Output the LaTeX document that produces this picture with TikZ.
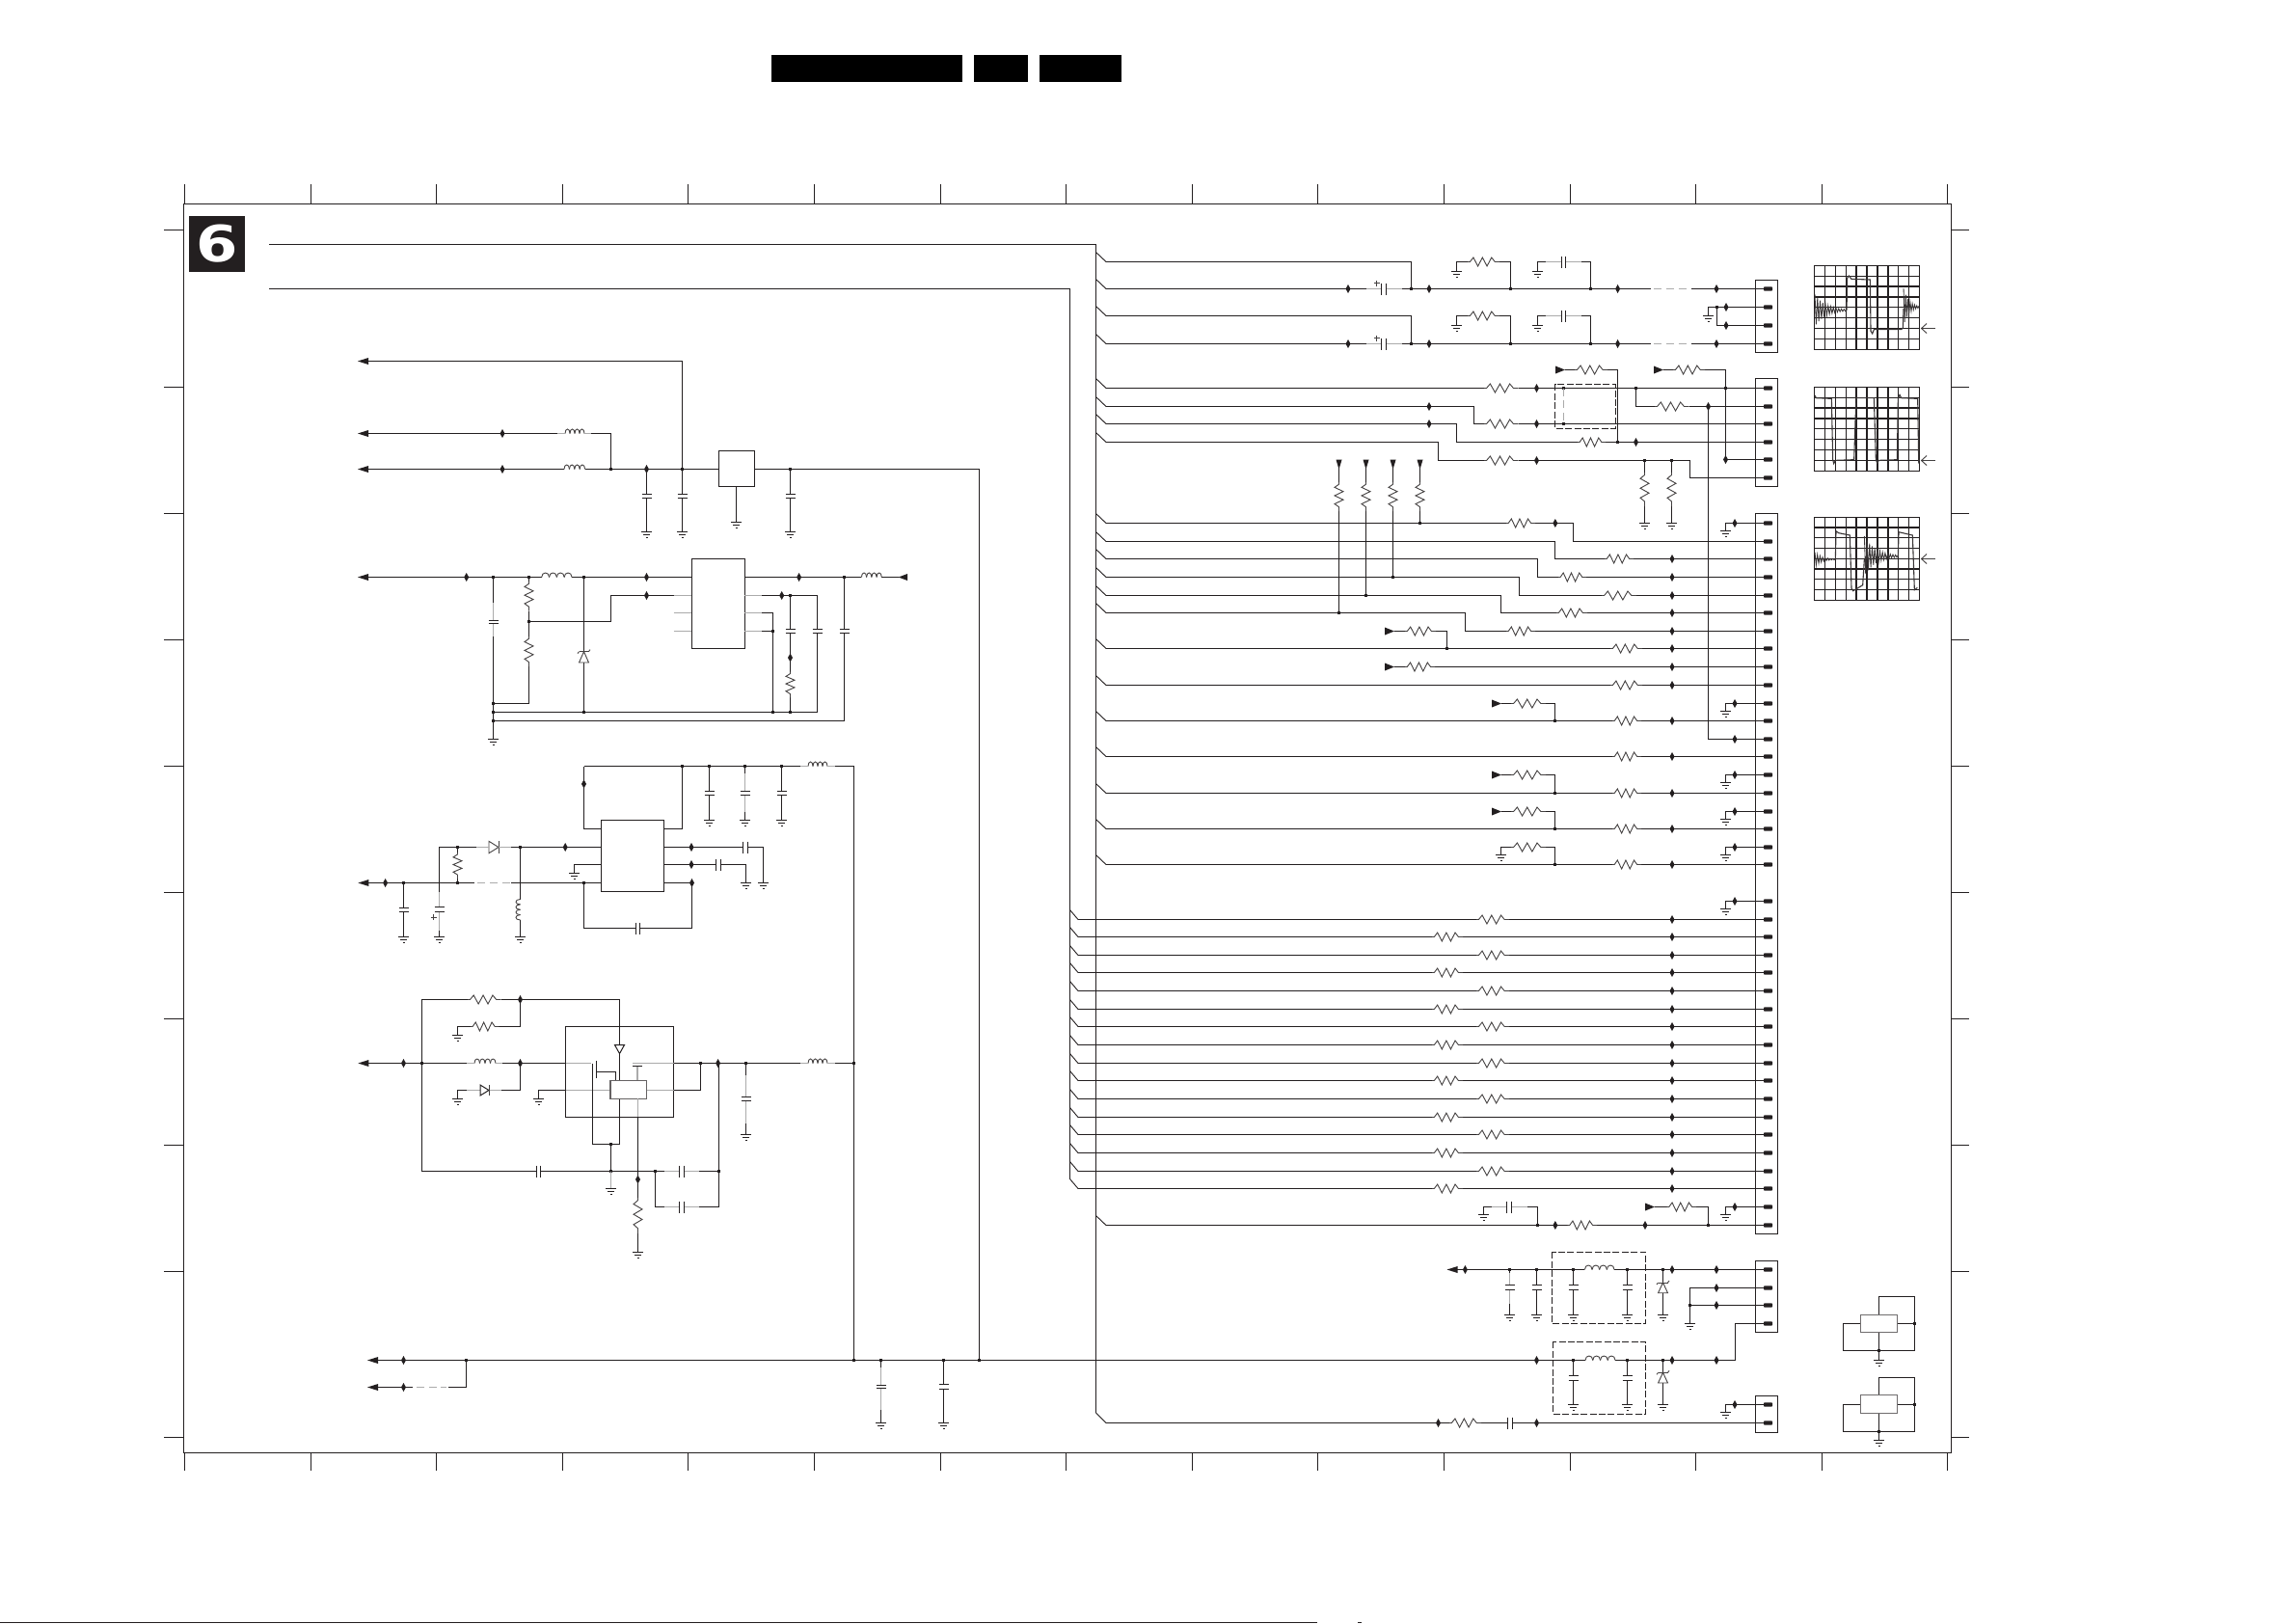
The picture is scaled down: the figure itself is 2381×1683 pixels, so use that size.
\documentclass[tikz,border=0pt]{standalone}
\usepackage{fontspec}
\setmainfont{DejaVu Sans}
\definecolor{ink}{HTML}{231F20}
\definecolor{soft}{HTML}{ABABAB}
\tikzset{
  wire/.style={draw=ink,line width=0.58pt,line join=miter},
  thinwire/.style={draw=ink,line width=0.45pt},
  part/.style={draw=ink!85,line width=0.45pt},
  softwire/.style={draw=soft,line width=0.9pt},
  softdash/.style={draw=soft,line width=0.9pt,dash pattern=on 4pt off 2.4pt},
  box/.style={draw=ink,line width=0.6pt},
  dashbox/.style={draw=ink,line width=0.5pt,dash pattern=on 3.5pt off 1.2pt},
  wave/.style={draw=ink!90,line width=0.42pt},
  gridline/.style={draw=ink,line width=0.6pt}
}
% component helpers (pixel coordinates)
\newcommand\dia[2]{\fill[ink] ({#1-2.5},#2)--(#1,{#2-4.5})--({#1+2.5},#2)--(#1,{#2+4.5})--cycle;}
\newcommand\jun[2]{\fill[ink] ({#1-1.7},{#2-1.7}) rectangle ({#1+1.7},{#2+1.7});}
\newcommand\gnd[2]{\draw[thinwire] ({#1-5.5},#2)--({#1+5.5},#2);\draw[thinwire] ({#1-3.2},{#2+3})--({#1+3.2},{#2+3});\draw[thinwire] ({#1-1},{#2+6})--({#1+1},{#2+6});}
\newcommand\hres[3]{\pgfmathsetmacro\rw{(#2-#1)/14}\draw[draw=white,line width=1.2pt] (#1,#3)--(#2,#3);
  \draw[part,shift={(#1,#3)}] (0,0)--({1*\rw},0)--({2.5*\rw},-4.5)--({4.5*\rw},4.5)--({6.5*\rw},-4.5)--({8.5*\rw},4.5)--({10.5*\rw},-4.5)--({12*\rw},0)--({14*\rw},0);}
\newcommand\vres[3]{\pgfmathsetmacro\rw{(#3-#2)/14}\draw[draw=white,line width=1.2pt] (#1,#2)--(#1,#3);
  \draw[part,shift={(#1,#2)}] (0,0)--(0,{1*\rw})--(-4.5,{2.5*\rw})--(4.5,{4.5*\rw})--(-4.5,{6.5*\rw})--(4.5,{8.5*\rw})--(-4.5,{10.5*\rw})--(0,{12*\rw})--(0,{14*\rw});}
\newcommand\hind[3]{\pgfmathsetmacro\rw{(#2-#1)/4}\draw[draw=white,line width=1.2pt] (#1,#3)--(#2,#3);
  \foreach \hk in {0,1,2,3}{\draw[part,shift={(#1,#3)}] ({\hk*\rw},0) .. controls ({\hk*\rw},-6) and ({(\hk+1)*\rw},-6) .. ({(\hk+1)*\rw},0);}}
\newcommand\vind[3]{\pgfmathsetmacro\rw{(#3-#2)/4}\draw[draw=white,line width=1.2pt] (#1,#2)--(#1,#3);
  \foreach \hk in {0,1,2,3}{\draw[part,shift={(#1,#2)}] (0,{\hk*\rw}) .. controls (-6,{\hk*\rw}) and (-6,{(\hk+1)*\rw}) .. (0,{(\hk+1)*\rw});}}
\newcommand\hcap[2]{\draw[draw=white,line width=1.4pt] ({#1-2},#2)--({#1+2},#2);\draw[thinwire] ({#1-2.2},{#2-6})--({#1-2.2},{#2+6});\draw[thinwire] ({#1+2.2},{#2-6})--({#1+2.2},{#2+6});}
\newcommand\vcap[3]{\draw[draw=white,line width=1.4pt] (#1,#2)--(#1,#3);\draw[thinwire] ({#1-5},#2)--({#1+5},#2);\draw[thinwire] ({#1-5},#3)--({#1+5},#3);}
\newcommand\larrow[2]{\fill[ink] (#1,#2)--({#1+11},{#2-3.5})--({#1+11},{#2+3.5})--cycle;}
\newcommand\rarrow[2]{\fill[ink] ({#1+10},#2)--(#1,{#2-4})--(#1,{#2+4})--cycle;}
\newcommand\darrow[2]{\fill[ink] (#1,{#2+10})--({#1-3},#2)--({#1+3},#2)--cycle;}
\newcommand\pinmark[1]{\draw[wire] (1820,#1)--(1829,#1);\fill[ink,rounded corners=0.4pt] (1829,{#1-2.2}) rectangle (1838,{#1+2.2});}
\newcommand\stub[1]{\draw[wire] (1820,#1)--(1789.5,#1)--(1789.5,{#1+8});\gnd{1789.5}{#1+8}\dia{1799}{#1}\pinmark{#1}}
\newcommand\busdiag[1]{\draw[thinwire] (1136.5,{#1-10})--(1147,#1);}
\newcommand\busa[1]{\busdiag{#1}\draw[wire] (1147,#1)--(1820,#1);}
\newcommand\busb[1]{\draw[thinwire] (1109.5,{#1-10})--(1118,#1);\draw[wire] (1118,#1)--(1820,#1);}
\newcommand\zener[3]{\draw[draw=white,line width=1pt] (#1,#2)--(#1,#3);
  \draw[part] ({#1-5},#3)--({#1+5},#3)--(#1,#2)--cycle;\draw[part] ({#1-5},#2)--({#1+5},#2);\draw[part] ({#1-5},#2)--({#1-6.5},{#2+2});\draw[part] ({#1+5},#2)--({#1+6.5},{#2-2});}
\newcommand\noise[5]{\draw[wave] plot[domain=0:#5,samples=#5+1] ({#1+(#2-#1)*\x/#5},{#3+#4*exp(-3*\x/#5)*(mod(round(\x),2)*2-1)});}
\newcommand\scopegrid[2]{\draw[gridline] (1881.3,#1) rectangle (1990.7,#2);
  \foreach \gi in {1,...,9}{\draw[gridline] ({1881.3+\gi*10.94},#1)--({1881.3+\gi*10.94},#2);}
  \foreach \gi in {1,...,7}{\draw[gridline] (1881.3,{#1+\gi*(#2-#1)/8})--(1990.7,{#1+\gi*(#2-#1)/8});}}
\newcommand\scopearrow[1]{\draw[part] (2006.7,#1)--(1992.5,#1);\draw[part] (1998,{#1-5})--(1992.5,#1)--(1998,{#1+5});}
\begin{document}
\begin{tikzpicture}[x=0.5pt,y=-0.5pt]
\useasboundingbox (0,0) rectangle (2381,1683);
% header blocks
\fill[black] (800,57) rectangle (998,85);
\fill[black] (1010,57) rectangle (1066,85);
\fill[black] (1078,57) rectangle (1163,85);
\draw[thinwire] (0,1682)--(1366,1682);
\draw[thinwire] (1408,1682)--(1412,1682);
% frame and ticks
\draw[box] (190.5,211.5) rectangle (2023.5,1506.5);
\foreach \tx in {0,...,14}{
  \draw[thinwire] ({191.5+\tx*130.6},191)--({191.5+\tx*130.6},211);
  \draw[thinwire] ({191.5+\tx*130.6},1506)--({191.5+\tx*130.6},1525);}
\foreach \ty in {238.5,401.5,532.5,663.5,794.5,925.5,1056.5,1187.5,1318.5,1490.5}{
  \draw[thinwire] (170,\ty)--(190,\ty);
  \draw[thinwire] (2023,\ty)--(2042,\ty);}
% sheet number
\node[name=sheetno,fill=ink,inner sep=0pt,minimum width=28.8pt,minimum height=28.7pt,text=white,font=\fontsize{26}{26}\selectfont\bfseries] at (224.8,253) {\scalebox{1.2}[1]{6}};
% main buses
\draw[wire] (279,253.5)--(1136.5,253.5)--(1136.5,1465);
\draw[wire] (279,299.5)--(1109.5,299.5)--(1109.5,1223);
\draw[thinwire] (1136.5,1465)--(1147,1475.5);
% ---------- section 1
\draw[wire] (382,374.5)--(707.5,374.5)--(707.5,486.5);
\draw[wire] (382,449.5)--(633.5,449.5)--(633.5,486.5);
\draw[wire] (382,486.5)--(745.4,486.5);
\draw[wire] (782.7,486.5)--(1015.5,486.5)--(1015.5,1410.5);
\larrow{371}{374.5}\larrow{371}{449.5}\larrow{371}{486.5}
\dia{521}{449.5}\dia{521}{486.5}\dia{670.5}{486.5}
\hind{586}{606}{449.5}\hind{585}{606.6}{486.5}
\draw[softwire] (577.6,449.5)--(586,449.5);\draw[softwire] (606,449.5)--(613.3,449.5);
\jun{633.5}{486.5}\jun{707.5}{486.5}\jun{819.5}{486.5}
\draw[box] (745.4,467.4) rectangle (782.7,504.5);
\draw[wire] (763.5,504.5)--(763.5,541.7);\gnd{763.5}{541.7}
\foreach \cx in {670.5,707.5,819.5}{\draw[wire] (\cx,486.5)--(\cx,551);\vcap{\cx}{512}{516.8}\gnd{\cx}{551}}
% ---------- section 2
\draw[wire] (382,598.5)--(717.3,598.5);
\draw[wire] (772.4,598.5)--(893.4,598.5);\draw[wire] (914.3,598.5)--(932,598.5);
\larrow{371}{598.5}\fill[ink] (931.6,598.5)--(941,595)--(941,602)--cycle;
\dia{483.7}{598.5}\jun{511.5}{598.5}\jun{548.5}{598.5}\jun{605.5}{598.5}\dia{670.5}{598.5}\dia{828.6}{598.5}\jun{875.5}{598.5}
\hind{561.7}{593}{598.5}\hind{893.4}{914.3}{598.5}
\draw[box] (717.3,579.5) rectangle (772.4,672.5);
\draw[wire] (698.5,617.5)--(633.5,617.5)--(633.5,644.5)--(548.5,644.5);
\dia{670.5}{617.5}
\foreach \py in {617.5,635.5,654.5}{\draw[softwire] (698.5,\py)--(717.3,\py);\draw[softwire] (772.4,\py)--(790,\py);}
\draw[wire] (790,617.5)--(847.5,617.5)--(847.5,738.5);
\dia{810.7}{617.5}\jun{819.5}{617.5}
\draw[wire] (790,635.5)--(801.5,635.5)--(801.5,738.5);
\draw[wire] (790,654.5)--(801.5,654.5);\jun{801.5}{654.5}
\draw[wire] (511.5,598.5)--(511.5,766);\gnd{511.5}{766}
\draw[softwire] (511.5,625)--(511.5,660);\vcap{511.5}{643}{646.5}
\draw[wire] (548.5,598.5)--(548.5,729.5)--(511.5,729.5);
\vres{548.5}{603}{633.5}\vres{548.5}{660}{691}\jun{548.5}{644.5}
\draw[wire] (605.5,598.5)--(605.5,738.5);\zener{605.5}{675.6}{687}
\draw[wire] (511.5,738.5)--(847.5,738.5);
\jun{511.5}{729.5}\jun{511.5}{738.5}\jun{511.5}{747.5}\jun{605.5}{738.5}\jun{801.5}{738.5}\jun{819.5}{738.5}
\draw[wire] (511.5,747.5)--(875.5,747.5)--(875.5,598.5);
\vcap{875.5}{652}{656.5}\vcap{847.5}{652}{656.5}
\draw[wire] (819.5,617.5)--(819.5,738.5);\vcap{819.5}{652}{656.5}\dia{819.5}{682}\vres{819.5}{696.6}{723.4}
% ---------- section 3
\draw[wire] (605.5,794.5)--(885.5,794.5)--(885.5,1410.5);
\hind{838}{858}{794.5}
\draw[softwire] (830,794.5)--(838,794.5);\draw[softwire] (858,794.5)--(865.6,794.5);
\foreach \jx in {707.5,735.5,772.5,810.5}{\jun{\jx}{794.5}}
\foreach \cx in {735.5,772.5,810.5}{\draw[wire] (\cx,794.5)--(\cx,850.7);\vcap{\cx}{820.4}{824.3}\gnd{\cx}{850.7}}
\draw[softwire] (772.5,802)--(772.5,842);\vcap{772.5}{820.4}{824.3}
\draw[wire] (605.5,794.5)--(605.5,859.5)--(623.2,859.5);\dia{605.5}{812.9}
\draw[wire] (688.4,859.5)--(707.5,859.5)--(707.5,794.5);
\draw[box] (623.2,850.4) rectangle (688.4,924.3);
\draw[wire] (455.5,971.8)--(455.5,878.5)--(623.2,878.5);
\jun{474.5}{878.5}\jun{539.5}{878.5}\dia{586.2}{878.5}
\draw[draw=white,line width=1.2pt] (500,878.5)--(525,878.5);
\draw[part] (507,872.3)--(507,884.7)--(517,878.5)--cycle;\draw[part] (517,872.3)--(517,884.7);
\draw[softwire] (494,878.5)--(507,878.5);\draw[softwire] (517,878.5)--(530,878.5);
\draw[wire] (382,915.5)--(492,915.5);\draw[wire] (530,915.5)--(623.2,915.5);
\draw[softdash] (495,915.5)--(530,915.5);
\larrow{371.4}{915.5}\dia{399.6}{915.5}\jun{418.5}{915.5}\jun{474.5}{915.5}\jun{605.5}{915.5}
\draw[wire] (418.5,915.5)--(418.5,971.8);\vcap{418.5}{941.4}{945.7}\gnd{418.5}{971.8}
\gnd{455.5}{971.8}\draw[draw=white,line width=1.2pt] (455.5,925)--(455.5,965);\draw[softwire] (455.5,925)--(455.5,965);\vcap{455.5}{940.7}{945}
\draw[part] (446.5,951.4)--(452.5,951.4);\draw[part] (449.5,948.4)--(449.5,954.4);
\draw[wire] (474.5,878.5)--(474.5,915.5);\vres{474.5}{884}{911}
\draw[wire] (539.5,878.5)--(539.5,971.8);\vind{539.5}{932.5}{954}\gnd{539.5}{971.8}
\draw[wire] (623.2,896.5)--(595.5,896.5)--(595.5,905.7);\gnd{595.5}{905.7}
\draw[wire] (688.4,878.5)--(791.5,878.5)--(791.5,915.5);\dia{717}{878.5}\hcap{773}{878.5}\gnd{791.5}{915.5}
\draw[wire] (688.4,896.5)--(773.5,896.5)--(773.5,915.5);\dia{717}{896.5}\hcap{745}{896.5}\gnd{773.5}{915.5}
\draw[wire] (688.4,915.5)--(717.5,915.5)--(717.5,962.5)--(605.5,962.5)--(605.5,915.5);\dia{717.5}{915.5}\hcap{661.2}{962.5}
% ---------- section 4
\draw[wire] (437.5,1214.5)--(437.5,1036.5)--(642.5,1036.5)--(642.5,1083.6);
\hres{485}{519.6}{1036.5}\dia{539.5}{1036.5}
\draw[wire] (474.5,1073.6)--(474.5,1064.5)--(539.5,1064.5)--(539.5,1036.5);\hres{488}{517.4}{1064.5}\gnd{474.5}{1073.6}
\draw[box] (586.6,1064.3) rectangle (698.7,1158.2);
\draw[wire] (382,1102.5)--(586.6,1102.5);
\larrow{371.4}{1102.5}\dia{418.5}{1102.5}\jun{437.5}{1102.5}\dia{539.5}{1102.5}
\hind{492}{514}{1102.5}
\draw[softwire] (484,1102.5)--(492,1102.5);\draw[softwire] (514,1102.5)--(520.5,1102.5);
\draw[softwire] (586.6,1102.5)--(613.4,1102.5);\draw[softwire] (655.8,1102.5)--(698.7,1102.5);
\draw[wire] (698.7,1102.5)--(885.5,1102.5);
\jun{726.5}{1102.5}\dia{744.6}{1102.5}\jun{773.5}{1102.5}\jun{885.5}{1102.5}
\hind{838}{858}{1102.5}
\draw[softwire] (830,1102.5)--(838,1102.5);\draw[softwire] (858,1102.5)--(865.6,1102.5);
\draw[wire] (437.5,1214.5)--(745.5,1214.5);\hcap{558.5}{1214.5}\jun{633.5}{1214.5}\jun{679.5}{1214.5}\jun{745.5}{1214.5}
\draw[softwire] (689,1214.5)--(725,1214.5);\hcap{707}{1214.5}
\draw[wire] (745.5,1102.5)--(745.5,1251.5)--(679.5,1251.5)--(679.5,1214.5);
\draw[softwire] (689,1251.5)--(725,1251.5);\hcap{707}{1251.5}
\draw[wire] (474.5,1139)--(474.5,1130.5)--(539.5,1130.5)--(539.5,1102.5);\gnd{474.5}{1139}
\draw[softwire] (484,1130.5)--(520,1130.5);
\draw[draw=ink,line width=0.5pt,fill=white] (498,1125)--(498,1136)--(507,1130.5)--cycle;\draw[part] (507,1125)--(507,1136);
\draw[wire] (558.5,1139)--(558.5,1130.5)--(586.6,1130.5);\gnd{558.5}{1139}
\draw[softwire] (586.6,1130.5)--(633,1130.5);\draw[softwire] (670.5,1130.5)--(698.7,1130.5);
\draw[wire] (698.7,1130.5)--(726.5,1130.5)--(726.5,1102.5);
% transistors and driver
\draw[wire] (642.5,1092.5)--(642.5,1186.5)--(614.5,1186.5)--(614.5,1102.5);
\draw[thinwire] (618,1100)--(618,1118);
\draw[wire] (618,1111.5)--(638.5,1111.5)--(638.5,1120.7);
\draw[softwire] (661,1105.7)--(661,1120.7);\draw[wire] (656,1105.7)--(666,1105.7);
\draw[draw=ink!70,line width=0.7pt,fill=white] (633,1120.7) rectangle (670.5,1139.3);
\draw[draw=ink,line width=0.5pt,fill=white] (637.5,1083.6)--(647.5,1083.6)--(642.5,1092.5)--cycle;
\draw[softwire] (661.5,1139.3)--(661.5,1158.2);
\draw[wire] (661.5,1158.2)--(661.5,1298.6);\dia{661.5}{1223}\vres{661.5}{1242}{1279}\gnd{661.5}{1298.6}
\draw[wire] (633.5,1186.5)--(633.5,1214.5);\jun{633.5}{1186.5}
\draw[softwire] (633.5,1214.5)--(633.5,1232.5);\gnd{633.5}{1232.5}
\draw[wire] (773.5,1102.5)--(773.5,1176.4);\draw[draw=white,line width=1.2pt] (773.5,1115)--(773.5,1165);\draw[softwire] (773.5,1115)--(773.5,1165);\vcap{773.5}{1137}{1141.4}\gnd{773.5}{1176.4}
% ---------- bottom bus
\draw[wire] (391,1410.5)--(1799.5,1410.5)--(1799.5,1372.5)--(1820,1372.5);
\larrow{381}{1410.5}\dia{418.5}{1410.5}\jun{483.5}{1410.5}\jun{885.5}{1410.5}\jun{913.5}{1410.5}\jun{978.5}{1410.5}\jun{1015.5}{1410.5}
\draw[wire] (391,1438.5)--(428,1438.5);\larrow{381}{1438.5}\dia{418.5}{1438.5}
\draw[softdash] (431.7,1438.5)--(463,1438.5);
\draw[wire] (465,1438.5)--(483.5,1438.5)--(483.5,1410.5);
\draw[wire] (913.5,1410.5)--(913.5,1475.7);\draw[draw=white,line width=1.2pt] (913.5,1418)--(913.5,1462);\draw[softwire] (913.5,1418)--(913.5,1462);\vcap{913.5}{1436}{1439.3}\gnd{913.5}{1475.7}
\draw[wire] (978.5,1410.5)--(978.5,1475.7);\vcap{978.5}{1435.3}{1440.3}\gnd{978.5}{1475.7}
\dia{1593.5}{1410.5}\jun{1631.5}{1410.5}\jun{1687.5}{1410.5}\jun{1724.5}{1410.5}\dia{1734}{1410.5}\dia{1780}{1410.5}
\hind{1644}{1675}{1410.5}
% ---------- J4 group
\draw[wire] (1510,1316.5)--(1820,1316.5);\larrow{1500.5}{1316.5}
\dia{1519.4}{1316.5}\jun{1565.5}{1316.5}\jun{1593.5}{1316.5}\jun{1631.5}{1316.5}\jun{1687.5}{1316.5}\jun{1724.5}{1316.5}\dia{1734}{1316.5}\dia{1780}{1316.5}
\hind{1643.4}{1674}{1316.5}
\foreach \cx in {1593.5,1631.5,1687.5}{\draw[wire] (\cx,1316.5)--(\cx,1363.3);\vcap{\cx}{1332.7}{1337}\gnd{\cx}{1363.3}}
\draw[wire] (1565.5,1316.5)--(1565.5,1363.3);\draw[draw=white,line width=1.2pt] (1565.5,1320)--(1565.5,1352);\draw[softwire] (1565.5,1320)--(1565.5,1352);\vcap{1565.5}{1332.7}{1337}\gnd{1565.5}{1363.3}
\draw[wire] (1724.5,1316.5)--(1724.5,1363.3);\zener{1724.5}{1330}{1340.7}\gnd{1724.5}{1363.3}
\draw[dashbox] (1609.2,1298.3) rectangle (1706.6,1372.3);
\draw[dashbox] (1610.7,1391.3) rectangle (1706.6,1466.3);
\foreach \cx in {1631.5,1687.5}{\draw[wire] (\cx,1410.5)--(\cx,1456.7);\vcap{\cx}{1426.3}{1431.3}\gnd{\cx}{1456.7}}
\draw[wire] (1724.5,1410.5)--(1724.5,1456.7);\zener{1724.5}{1423.3}{1434}\gnd{1724.5}{1456.7}
\draw[wire] (1820,1335.5)--(1752.5,1335.5)--(1752.5,1372.3);\gnd{1752.5}{1372.3}
\draw[wire] (1820,1353.5)--(1752.5,1353.5);\jun{1752.5}{1353.5}\dia{1780}{1335.5}\dia{1780}{1353.5}
\draw[box] (1820.5,1307.5) rectangle (1843.5,1381.5);
\foreach \py in {1316.5,1335.5,1353.5,1372.5}{\pinmark{\py}}
\draw[box] (1820.5,1447.5) rectangle (1843.5,1485.5);
\stub{1456.5}
\draw[wire] (1147,1475.5)--(1820,1475.5);\dia{1491.5}{1475.5}\hres{1503}{1536}{1475.5}\hcap{1565.8}{1475.5}\dia{1593.5}{1475.5}\pinmark{1475.5}
% ---------- J1 group
\foreach \ya/\yb in {271.5/299.5,327.5/356.5}{
  \busa{\yb}
  \draw[thinwire] (1136.5,{\ya-10})--(1147,\ya);
  \draw[wire] (1147,\ya)--(1463.5,\ya)--(1463.5,\yb);
  \dia{1398}{\yb}\jun{1463.5}{\yb}\dia{1482}{\yb}\jun{1566.5}{\yb}\jun{1649.5}{\yb}\dia{1677.6}{\yb}\dia{1780}{\yb}
  \draw[draw=white,line width=1.2pt] (1417,\yb)--(1453.6,\yb);\draw[softwire] (1417,\yb)--(1453.6,\yb);\hcap{1435}{\yb}
  \draw[part] (1424.5,{\yb-6})--(1430.5,{\yb-6});\draw[part] (1427.5,{\yb-9})--(1427.5,{\yb-3});
  \draw[draw=white,line width=1.6pt] (1712,\yb)--(1754,\yb);\draw[softdash] (1715,\yb)--(1752,\yb);
  \draw[wire] (1510.5,{\ya+9.7})--(1510.5,\ya)--(1518,\ya);\gnd{1510.5}{\ya+9.7}
  \draw[wire] (1518,\ya)--(1566.5,\ya)--(1566.5,\yb);\hres{1522}{1555}{\ya}
  \draw[wire] (1594.5,{\ya+9.7})--(1594.5,\ya)--(1649.5,\ya)--(1649.5,\yb);\gnd{1594.5}{\ya+9.7}
  \draw[softwire] (1602.5,\ya)--(1640,\ya);\hcap{1621.4}{\ya}
}
\draw[box] (1820.5,290.5) rectangle (1843.5,365.5);
\pinmark{299.5}\pinmark{318.5}\pinmark{337.5}\pinmark{356.5}
\draw[wire] (1820,318.5)--(1771.5,318.5)--(1771.5,327);\gnd{1771.5}{327}
\draw[wire] (1820,337.5)--(1780.5,337.5)--(1780.5,318.5);\jun{1780.5}{318.5}\dia{1790}{318.5}\dia{1790}{337.5}
% ---------- J2 group
\draw[thinwire] (1136.5,392.5)--(1147,402.5);\draw[wire] (1147,402.5)--(1820,402.5);
\hres{1539}{1574.5}{402.5}\dia{1593.5}{402.5}\jun{1621.5}{402.5}\jun{1696.5}{402.5}\jun{1789.5}{402.5}
\draw[thinwire] (1136.5,411.5)--(1147,421.5);\draw[wire] (1147,421.5)--(1528.5,421.5)--(1528.5,439.5)--(1820,439.5);
\dia{1482}{421.5}\hres{1539}{1574.5}{439.5}\dia{1593.5}{439.5}\jun{1621.5}{439.5}
\draw[thinwire] (1136.5,429.5)--(1147,439.5);\draw[wire] (1147,439.5)--(1510.5,439.5)--(1510.5,458.5)--(1820,458.5);
\dia{1482}{439.5}\hres{1636}{1665}{458.5}\jun{1677.5}{458.5}\dia{1696.5}{458.5}
\draw[thinwire] (1136.5,448.5)--(1147,458.5);\draw[wire] (1147,458.5)--(1491.5,458.5)--(1491.5,477.5)--(1752.5,477.5)--(1752.5,495.5)--(1820,495.5);
\hres{1539}{1574.5}{477.5}\dia{1593.5}{477.5}\jun{1705.5}{477.5}\jun{1733.5}{477.5}
\draw[softdash] (1621.5,402.5)--(1621.5,439.5);
\draw[dashbox] (1612.8,398.3) rectangle (1675,444.3);
\draw[wire] (1623,383.5)--(1677.5,383.5)--(1677.5,458.5);\rarrow{1613}{383.5}\hres{1633}{1667}{383.5}
\draw[wire] (1725,383.5)--(1789.5,383.5)--(1789.5,476.5)--(1820,476.5);\rarrow{1715}{383.5}\hres{1735}{1768}{383.5}\dia{1789.5}{476.5}
\draw[wire] (1696.5,402.5)--(1696.5,421.5)--(1820,421.5);\hres{1716}{1751.5}{421.5}\dia{1771.5}{421.5}
\foreach \vx in {1705.5,1733.5}{\draw[wire] (\vx,477.5)--(\vx,542.7);\vres{\vx}{490}{525}\gnd{\vx}{542.7}}
\draw[box] (1820.5,392.5) rectangle (1843.5,504.5);
\foreach \py in {402.5,421.5,439.5,458.5,476.5,495.5}{\pinmark{\py}}
% ---------- J3 rows with stepped runs
\busdiag{542.5}\draw[wire] (1147,542.5)--(1631.5,542.5)--(1631.5,561.5)--(1820,561.5);
\busdiag{561.5}\draw[wire] (1147,561.5)--(1612.5,561.5)--(1612.5,579.5)--(1820,579.5);
\busdiag{579.5}\draw[wire] (1147,579.5)--(1594.5,579.5)--(1594.5,598.5)--(1820,598.5);
\busdiag{598.5}\draw[wire] (1147,598.5)--(1575.5,598.5)--(1575.5,617.5)--(1820,617.5);
\busdiag{617.5}\draw[wire] (1147,617.5)--(1556.5,617.5)--(1556.5,635.5)--(1820,635.5);
\busdiag{635.5}\draw[wire] (1147,635.5)--(1519.5,635.5)--(1519.5,654.5)--(1820,654.5);
% ---------- vertical resistors
\foreach \vx/\vy in {1388.5/635.5,1416.5/617.5,1444.5/598.5,1472.5/542.5}{
  \draw[wire] (\vx,486)--(\vx,\vy);\darrow{\vx}{476.7}\vres{\vx}{500}{530}\jun{\vx}{\vy}}
\hres{1562}{1592}{542.5}\dia{1612.8}{542.5}
\hres{1664}{1694}{579.5}\hres{1616}{1645}{598.5}\hres{1661}{1697}{617.5}\hres{1614}{1646}{635.5}\hres{1562}{1592}{654.5}
\foreach \py in {579.5,598.5,617.5,635.5,654.5}{\dia{1734}{\py}\pinmark{\py}}
\stub{542.5}\pinmark{561.5}
\draw[wire] (1446,654.5)--(1500.5,654.5)--(1500.5,672.5);\rarrow{1436}{654.5}\hres{1457}{1489}{654.5}
\busa{672.5}\hres{1670}{1703}{672.5}\jun{1500.5}{672.5}\dia{1734}{672.5}\pinmark{672.5}
\draw[wire] (1446,691.5)--(1820,691.5);\rarrow{1436}{691.5}\hres{1457}{1488}{691.5}\dia{1734}{691.5}\pinmark{691.5}
\busa{710.5}\hres{1670}{1703}{710.5}\dia{1734}{710.5}\pinmark{710.5}
\foreach \py in {747.5,784.5,822.5,859.5,896.5}{\busa{\py}\hres{1672}{1702}{\py}\dia{1734}{\py}\pinmark{\py}}
\foreach \ya/\yb in {729.5/747.5,803.5/822.5,841.5/859.5}{
  \draw[wire] (1557,\ya)--(1612.5,\ya)--(1612.5,\yb);\rarrow{1547}{\ya}\hres{1567}{1603}{\ya}\jun{1612.5}{\yb}\stub{\ya}}
\draw[wire] (1556.5,886.5)--(1556.5,878.5)--(1612.5,878.5)--(1612.5,896.5);\gnd{1556.5}{886.5}\hres{1567}{1603}{878.5}\jun{1612.5}{896.5}\stub{878.5}
\draw[wire] (1771.5,421.5)--(1771.5,766.5)--(1820,766.5);\dia{1799}{766.5}\pinmark{766.5}
\stub{934.5}
% ---------- second bus rows
\foreach \py/\rx in {953.5/1,971.5/0,990.5/1,1008.5/0,1027.5/1,1046.5/0,1064.5/1,1083.5/0,1102.5/1,1120.5/0,1139.5/1,1158.5/0,1176.5/1,1195.5/0,1214.5/1,1232.5/0}{
  \busb{\py}
  \ifnum\rx=1 \hres{1531}{1565}{\py}\else \hres{1485}{1517}{\py}\fi
  \dia{1734}{\py}\pinmark{\py}}
% last row
\busa{1270.5}
\draw[wire] (1538.5,1259.6)--(1538.5,1251.5)--(1594.5,1251.5)--(1594.5,1270.5);\gnd{1538.5}{1259.6}
\draw[softwire] (1547,1251.5)--(1584,1251.5);\hcap{1565}{1251.5}
\jun{1594.5}{1270.5}\dia{1612.8}{1270.5}\hres{1625.5}{1656}{1270.5}\dia{1706}{1270.5}\jun{1771.5}{1270.5}\pinmark{1270.5}
\draw[wire] (1716,1251.5)--(1771.5,1251.5)--(1771.5,1270.5);\rarrow{1706}{1251.5}\hres{1728.6}{1759}{1251.5}
\stub{1251.5}
\draw[box] (1820.5,532.5) rectangle (1843.5,1279.5);
% ---------- scopes
\scopegrid{275.3}{362.3}\scopegrid{401.3}{488.3}\scopegrid{536.3}{622.3}
\scopearrow{340.5}\scopearrow{477.5}\scopearrow{579.5}
\begin{scope}[shift={(1860,260)},x=0.16667pt,y=-0.16667pt]
\noise{66}{165}{185}{50}{24}
\draw[wave,line width=0.55pt] (165,185)--(167,85)--(172,78)--(180,88)--(238,90)--(240,250)--(245,258)--(250,245)--(335,245)--(340,240)--(342,180);
\noise{342}{390}{175}{58}{14}
\draw[wave,line width=0.55pt] (66,450)--(70,458)--(118,460)--(122,650)--(125,662)--(130,652)--(188,650)--(192,530)--(195,458)--(250,458)--(256,650)--(260,660)--(265,652)--(322,650)--(325,460)--(330,448)--(335,458)--(386,460)--(389,655)--(391,650);
\noise{66}{130}{960}{22}{16}
\draw[wave,line width=0.55pt] (130,960)--(132,872)--(140,878)--(175,885)--(180,1050)--(185,1058)--(215,1040)--(220,960);
\noise{220}{325}{950}{62}{26}
\draw[wave,line width=0.55pt] (325,950)--(327,875)--(370,885)--(376,1055)--(385,1048);
\end{scope}
% ---------- small ICs
\foreach \rt/\rb/\lp/\mid/\lo/\gy in {1363.5/1381.5/1344.5/1372.5/1400.5/1410,1446.5/1465.5/1428.5/1456.5/1484.5/1493.3}{
  \draw[wire] (1948.5,\rt)--(1948.5,\lp)--(1985.5,\lp)--(1985.5,\lo)--(1911.5,\lo)--(1911.5,\mid)--(1929.3,\mid);
  \draw[wire] (1967.3,\mid)--(1985.5,\mid);
  \draw[wire] (1948.5,\rb)--(1948.5,\gy);
  \draw[draw=ink!65,line width=0.8pt] (1929.5,\rt) rectangle (1967.5,\rb);
  \jun{1985.5}{\mid}\jun{1948.5}{\lo}\gnd{1948.5}{\gy}}
\end{tikzpicture}
\end{document}
